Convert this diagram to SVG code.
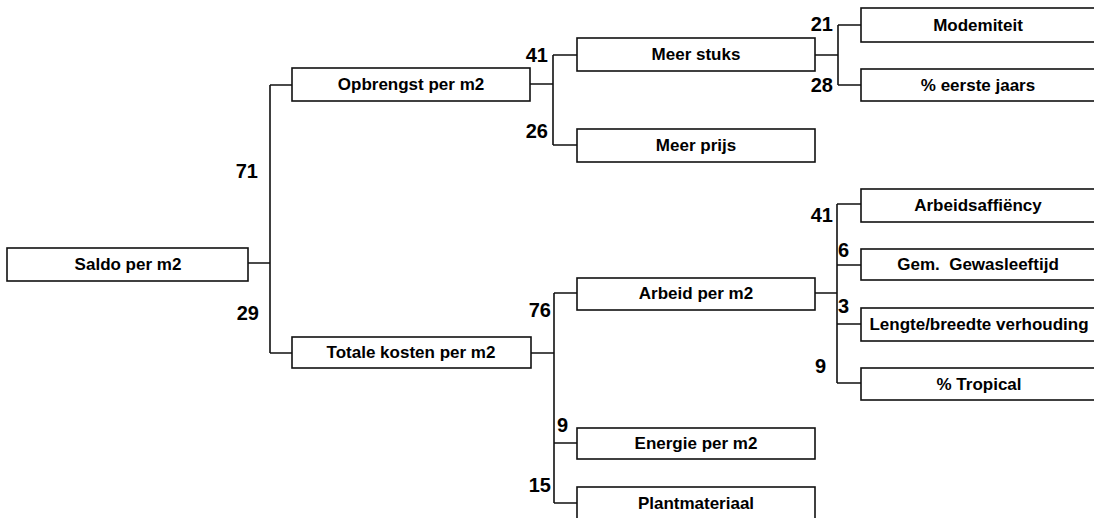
<svg xmlns="http://www.w3.org/2000/svg" width="1094" height="518" viewBox="0 0 1094 518">
<style>
.box{fill:#fff;stroke:#111;stroke-width:1.6}
.lbl{font-family:"Liberation Sans",Arial,sans-serif;font-weight:bold;font-size:17px;fill:#000;text-anchor:middle;white-space:pre}
.num{font-family:"Liberation Sans",Arial,sans-serif;font-weight:bold;font-size:20px;fill:#000}
.r{text-anchor:end}
.con{fill:none;stroke:#111;stroke-width:1.6}
</style>
<rect width="1094" height="518" fill="#fff"/>
<g id="connectors">
<path class="con" d="M248,263 H270 M270,85 V353 M270,85 H292 M270,353 H292"/>
<path class="con" d="M530,84 H553 M553,55 V145 M553,55 H577 M553,145 H577"/>
<path class="con" d="M815,55 H838 M838,25 V85 M838,25 H861 M838,85 H861"/>
<path class="con" d="M531,353 H554 M554,293 V503 M554,293 H577 M554,443 H577 M554,503 H577"/>
<path class="con" d="M815,293 H837 M837,204 V383 M837,204 H861 M837,265 H861 M837,324 H861 M837,383 H861"/>
</g>
<g id="weights">
<text class="num r" x="258" y="178">71</text>
<text class="num r" x="259" y="320">29</text>
<text class="num r" x="548" y="62">41</text>
<text class="num r" x="548" y="138">26</text>
<text class="num r" x="833" y="31">21</text>
<text class="num r" x="833" y="92">28</text>
<text class="num r" x="551" y="317">76</text>
<text class="num" x="557" y="432">9</text>
<text class="num r" x="551" y="492">15</text>
<text class="num r" x="833" y="222">41</text>
<text class="num" x="838" y="257">6</text>
<text class="num" x="838" y="313">3</text>
<text class="num r" x="826" y="373">9</text>
</g>
<g id="n-saldo"><rect class="box" x="7" y="248" width="241" height="33"/><text class="lbl" x="128" y="270">Saldo per m2</text></g>
<g id="n-opbrengst"><rect class="box" x="292" y="68" width="238" height="33"/><text class="lbl" x="411" y="90">Opbrengst per m2</text></g>
<g id="n-totale"><rect class="box" x="292" y="337" width="239" height="31"/><text class="lbl" x="411" y="358">Totale kosten per m2</text></g>
<g id="n-meerstuks"><rect class="box" x="577" y="38" width="238" height="33"/><text class="lbl" x="696" y="60">Meer stuks</text></g>
<g id="n-meerprijs"><rect class="box" x="577" y="129" width="238" height="33"/><text class="lbl" x="696" y="151">Meer prijs</text></g>
<g id="n-arbeid"><rect class="box" x="577" y="278" width="238" height="32"/><text class="lbl" x="696" y="299">Arbeid per m2</text></g>
<g id="n-energie"><rect class="box" x="577" y="428" width="238" height="31"/><text class="lbl" x="696" y="449">Energie per m2</text></g>
<g id="n-plant"><rect class="box" x="577" y="487" width="238" height="40"/><text class="lbl" x="696" y="509">Plantmateriaal</text></g>
<g id="n-modern"><rect class="box" x="861" y="8" width="238" height="34"/><text class="lbl" x="978" y="31">Modemiteit</text></g>
<g id="n-eerste"><rect class="box" x="861" y="69" width="238" height="32"/><text class="lbl" x="978" y="91">% eerste jaars</text></g>
<g id="n-arbeidsaff"><rect class="box" x="861" y="189" width="238" height="33"/><text class="lbl" x="978" y="211">Arbeidsaffiëncy</text></g>
<g id="n-gewas"><rect class="box" x="861" y="249" width="238" height="31"/><text class="lbl" x="978" y="270">Gem.  Gewasleeftijd</text></g>
<g id="n-lengte"><rect class="box" x="861" y="308" width="238" height="33"/><text class="lbl" x="979" y="330">Lengte/breedte verhouding</text></g>
<g id="n-tropical"><rect class="box" x="861" y="368" width="238" height="32"/><text class="lbl" x="979" y="390">% Tropical</text></g>
</svg>
